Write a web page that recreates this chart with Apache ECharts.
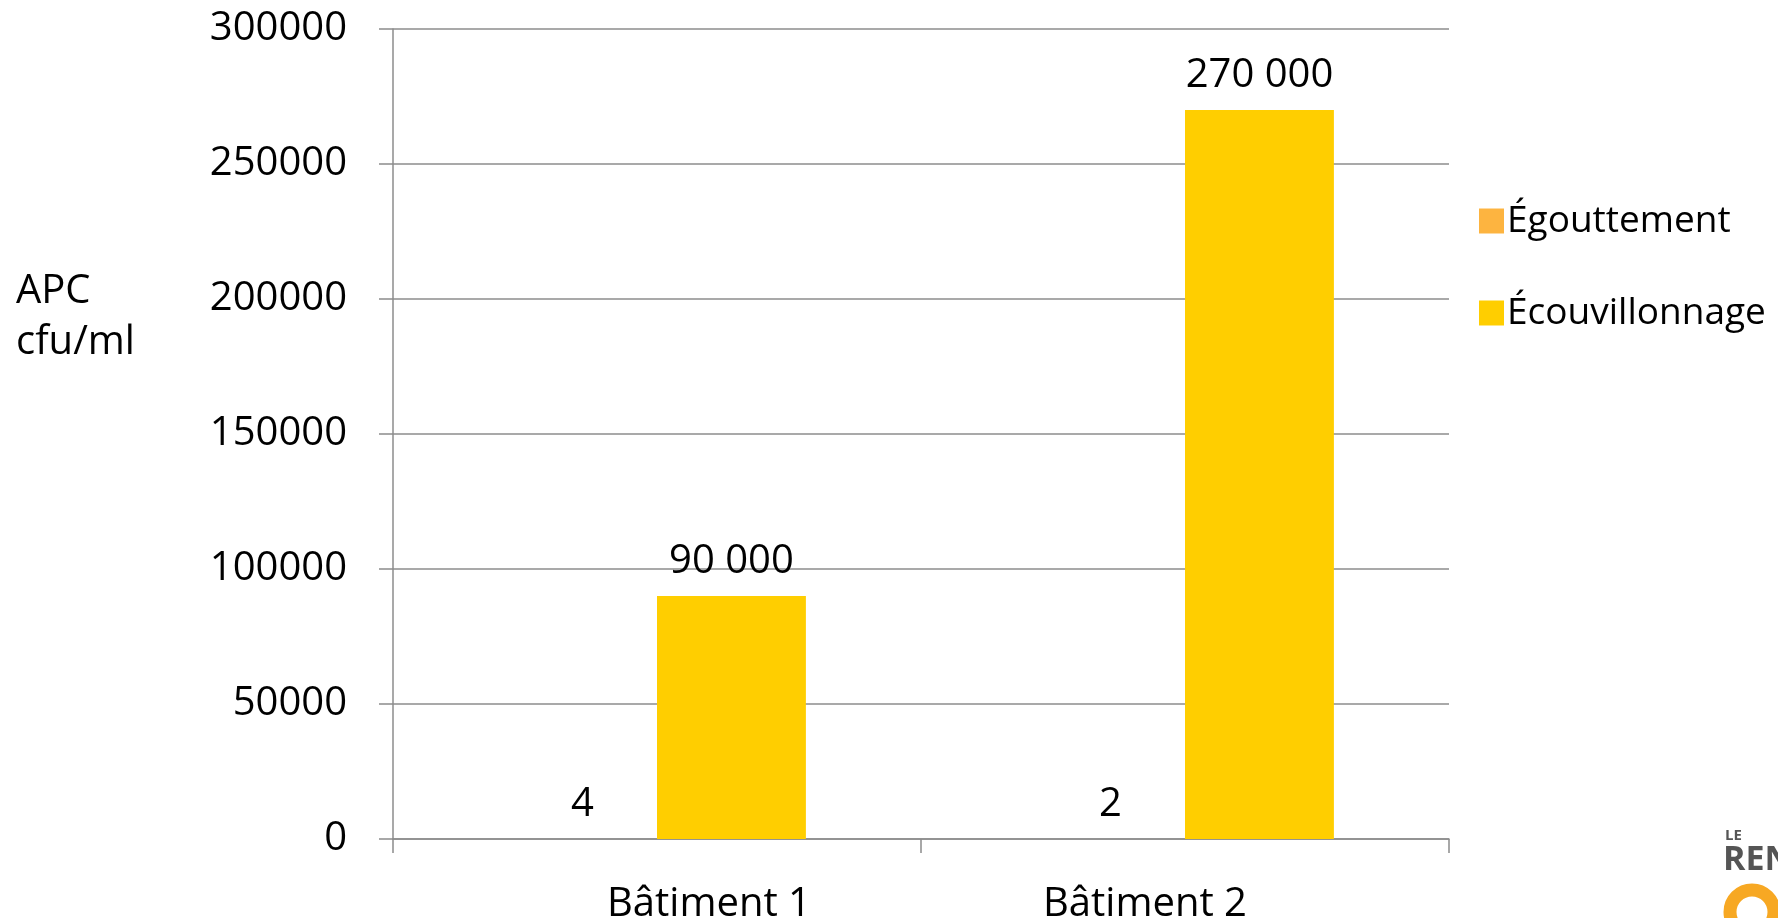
<!DOCTYPE html>
<html>
<head>
<meta charset="utf-8">
<script src="https://cdn.jsdelivr.net/npm/echarts@6/dist/echarts.min.js"></script>
<style>
  html, body { margin: 0; padding: 0; background: #ffffff; }
  #chart { width: 1778px; height: 918px; }
</style>
</head>
<body>
<div id="chart"></div>
<script>
// Sites sampled
const categories = ['Bâtiment 1', 'Bâtiment 2'];
// APC counts (cfu/ml) per sampling method
const egouttement = [4, 2];
const ecouvillonnage = [90000, 270000];
const seriesNames = ['Égouttement', 'Écouvillonnage'];
const yTicks = { min: 0, max: 300000, interval: 50000 };

const FONT = '"Open Sans", "Noto Sans", sans-serif';
const fmtSpace = v => String(v).replace(/\B(?=(\d{3})+(?!\d))/g, ' ');

const chart = echarts.init(document.getElementById('chart'), null, { renderer: 'canvas' });

const labelStyle = {
  show: true,
  position: 'top',
  distance: 14,
  color: '#000',
  fontFamily: FONT,
  fontSize: 40,
  formatter: p => fmtSpace(p.value)
};

chart.setOption({
  animation: false,
  backgroundColor: '#ffffff',
  textStyle: { fontFamily: FONT },
  grid: { left: 393, right: 329, top: 29, bottom: 79, containLabel: false, outerBoundsMode: 'none' },
  legend: {
    orient: 'vertical',
    left: 1474,
    top: 195,
    itemWidth: 25,
    itemHeight: 25,
    itemGap: 50,
    icon: 'rect',
    data: seriesNames,
    textStyle: { fontFamily: FONT, fontSize: 37, color: '#000', lineHeight: 42, padding: [0, 0, 0, -2] }
  },
  xAxis: {
    type: 'category',
    data: categories,
    axisLine: { show: true, lineStyle: { color: '#8c8c8c', width: 1.5 } },
    axisTick: { show: true, length: 14, lineStyle: { color: '#8c8c8c', width: 1.5 } },
    axisLabel: {
      color: '#000',
      fontFamily: FONT,
      fontSize: 40,
      margin: 46,
      formatter: (v, i) => i === 0 ? '{a|' + v + '}' : '{b|' + v + '}',
      rich: {
        a: { fontFamily: FONT, fontSize: 40, color: '#000', padding: [0, 0, 0, 104] },
        b: { fontFamily: FONT, fontSize: 40, color: '#000', padding: [0, 80, 0, 0] }
      }
    }
  },
  yAxis: {
    type: 'value',
    min: yTicks.min,
    max: yTicks.max,
    interval: yTicks.interval,
    axisLine: { show: true, lineStyle: { color: '#8c8c8c', width: 1.5 } },
    axisTick: { show: true, length: 14, lineStyle: { color: '#8c8c8c', width: 1.5 } },
    splitLine: { show: true, lineStyle: { color: '#8c8c8c', width: 1.5 } },
    axisLabel: { color: '#000', fontFamily: FONT, fontSize: 40, margin: 46, formatter: v => String(v) }
  },
  series: [
    {
      name: seriesNames[0],
      type: 'bar',
      data: egouttement,
      barGap: '0%',
      barCategoryGap: '43.6%',
      itemStyle: { color: '#FDB440' },
      label: labelStyle
    },
    {
      name: seriesNames[1],
      type: 'bar',
      data: ecouvillonnage,
      barGap: '0%',
      barCategoryGap: '43.6%',
      itemStyle: { color: '#FFCE00' },
      label: labelStyle
    }
  ],
  graphic: [
    {
      type: 'text',
      left: 16,
      top: 266,
      style: {
        text: 'APC\ncfu/ml',
        fontFamily: FONT,
        fontSize: 40,
        lineHeight: 51,
        fill: '#000'
      }
    },
    // corner logo, cut by the page edge
    {
      type: 'text',
      left: 1725,
      top: 828,
      style: { text: 'LE', fontFamily: FONT, fontWeight: 'bold', fontSize: 15, fill: '#555' }
    },
    {
      type: 'text',
      left: 1723,
      top: 843,
      style: { text: 'REN', fontFamily: FONT, fontWeight: 'bold', fontSize: 34, fill: '#555' }
    },
    {
      type: 'circle',
      shape: { cx: 1752, cy: 912, r: 22 },
      style: { fill: 'none', stroke: '#F7A823', lineWidth: 13 }
    }
  ]
});
</script>
</body>
</html>
